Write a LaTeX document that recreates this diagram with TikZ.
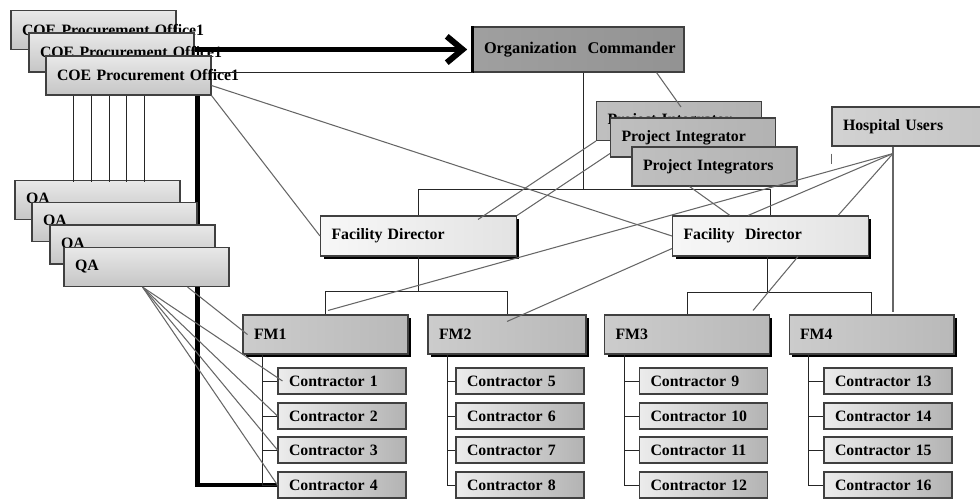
\documentclass[tikz,border=0pt]{standalone}
\usepackage{fontspec}
\setmainfont{Liberation Serif}
\usetikzlibrary{arrows.meta,shadows}
\pgfdeclarelayer{back}
\pgfsetlayers{back,main}

\begin{document}
\begin{tikzpicture}[x=0.02cm,y=-0.02cm,
  font=\fontsize{9}{11}\selectfont\bfseries,
  box/.style={draw=black!75, line width=0.6pt, align=left, inner xsep=0.22cm, inner ysep=0pt},
  coebox/.style={box, top color=gray!18, bottom color=gray!45, text width=2.86cm, minimum height=0.78cm},
  orgbox/.style={box, left color=gray!75, middle color=gray!28, right color=gray!85, text width=3.78cm, minimum height=0.9cm,
    font=\fontsize{9.3}{12}\selectfont\bfseries},
  pibox/.style={box, left color=gray!50, middle color=gray!28, right color=gray!60, text width=2.86cm, minimum height=0.78cm},
  hubox/.style={box, left color=gray!35, middle color=gray!15, right color=gray!45, text width=2.56cm, minimum height=0.78cm},
  fdbox/.style={box, left color=gray!6, right color=gray!22, text width=3.48cm, minimum height=0.8cm,
    drop shadow={shadow xshift=0.06cm, shadow yshift=-0.06cm, fill=black, opacity=1}},
  fmbox/.style={box, left color=gray!40, middle color=gray!20, right color=gray!55, text width=2.86cm, minimum height=0.78cm,
    drop shadow={shadow xshift=0.06cm, shadow yshift=-0.06cm, fill=black, opacity=1}},
  conbox/.style={box, left color=gray!15, middle color=gray!25, right color=gray!60, text width=2.12cm, minimum height=0.52cm},
  tree/.style={draw=black!85, line width=0.5pt},
  link/.style={draw=black!60, line width=0.6pt}]

\useasboundingbox (0,0) rectangle (980,498);

% procurement offices
\node[coebox] (coe1) at (93.5,30) {\mbox{COE Procurement Office1}};
\node[coebox] (coe2) at (111.5,52.5) {\mbox{COE Procurement Office1}};
\node[coebox] (coe3) at (128.5,75.5) {\mbox{COE Procurement Office1}};
\node[orgbox] (org) at (578.5,49.5) {\mbox{Organization\ \ Commander}};
\draw[line width=1.6pt] (org.north west) -- (org.south west);

% quality assurance
\node[coebox] (qa1) at (97.5,200) {QA};
\node[coebox] (qa2) at (114.5,222) {QA};
\node[coebox] (qa3) at (132.5,244.5) {QA};
\node[coebox] (qa4) at (146.5,267) {QA};

% integrators and users
\node[pibox] (pi1) at (679,121) {Project Integrator};
\node[pibox] (pi2) at (693,137.5) {Project Integrator};
\node[pibox] (pi3) at (714.5,166.5) {Project Integrators};
\node[hubox] (hu) at (907,126.5) {Hospital Users};

% directors and facility managers
\node[fdbox] (fd1) at (418.5,236) {Facility Director};
\node[fdbox] (fd2) at (770.5,236) {Facility\ \ Director};
\node[fmbox] (fm1) at (325.5,334.5) {FM1};
\node[fmbox, text width=2.72cm] (fm2) at (507,334.5) {FM2};
\node[fmbox] (fm3) at (687,334.5) {FM3};
\node[fmbox] (fm4) at (871.5,334.5) {FM4};

% contractors
\node[conbox] (c1) at (342,381) {Contractor 1};
\node[conbox] (c2) at (342,416) {Contractor 2};
\node[conbox] (c3) at (342,450) {Contractor 3};
\node[conbox] (c4) at (342,485) {Contractor 4};
\node[conbox] (c5) at (520,381) {Contractor 5};
\node[conbox] (c6) at (520,416) {Contractor 6};
\node[conbox] (c7) at (520,450) {Contractor 7};
\node[conbox] (c8) at (520,485) {Contractor 8};
\node[conbox] (c9) at (703.5,381) {Contractor 9};
\node[conbox] (c10) at (703.5,416) {Contractor 10};
\node[conbox] (c11) at (703.5,450) {Contractor 11};
\node[conbox] (c12) at (703.5,485) {Contractor 12};
\node[conbox] (c13) at (888,381) {Contractor 13};
\node[conbox] (c14) at (888,416) {Contractor 14};
\node[conbox] (c15) at (888,450) {Contractor 15};
\node[conbox] (c16) at (888,485) {Contractor 16};

% contract line behind the QA stack
\begin{pgfonlayer}{back}
\draw[line width=2.8pt] (coe3.south -| qa2.east) |- (c4.west);
\end{pgfonlayer}

% hierarchy
\draw[tree] ([xshift=0.09cm]org.south) -- ++(0,117) coordinate (obus);
\draw[tree] (fd1.north) |- (obus) -| (fd2.north);
\draw[tree] (fd1.south) -- ++(0,35) coordinate (fbus1);
\draw[tree] (fm1.north) |- (fbus1) -| (fm2.north);
\draw[tree] ([xshift=-0.07cm]fd2.south) -- ++(0,36) coordinate (fbus2);
\draw[tree] (fm3.north) |- (fbus2) -| (fm4.north);
\foreach \f/\a/\b/\c/\d in {fm1/c1/c2/c3/c4, fm2/c5/c6/c7/c8, fm3/c9/c10/c11/c12, fm4/c13/c14/c15/c16}
  \draw[tree] ([xshift=0.4cm]\f.south west) |- (\a.west)
              ([xshift=0.4cm]\f.south west) |- (\b.west)
              ([xshift=0.4cm]\f.south west) |- (\c.west)
              ([xshift=0.4cm]\f.south west) |- (\d.west);
\foreach \s in {-1.11,-0.75,-0.39,-0.05,0.31}
  \draw[tree] ([xshift=\s cm]coe3.south) -- +(0,86);
\draw[tree] (coe3.east |- org.south west) -- (org.south west);

% cross links
\draw[link] ([xshift=-0.56cm]org.south east) -- ([xshift=1.7cm,yshift=-0.12cm]pi1.north west);
\draw[link] (pi1.south west) -- ([xshift=1.19cm,yshift=-0.08cm]fd1.north);
\draw[link] ([yshift=0.08cm]pi2.south west) -- (fd1.north east);
\draw[link] (coe3.south east) -- (fd1.west);
\draw[link] ([yshift=-0.2cm]coe3.east) -- (fd2.west);
\draw[link] ([xshift=-0.5cm]pi3.south) -- ([xshift=-0.81cm]fd2.north);
\coordinate (hup) at ([xshift=-0.28cm,yshift=-0.14cm]hu.south);
\draw[link] (hu.south -| hup) -- ++(0,165);
\draw[link] (hup) -- ([xshift=0.05cm,yshift=0.08cm]fm1.north);
\draw[link] (hup) -- ([xshift=-0.45cm]fd2.north);
\draw[link] (hup) -- ([xshift=-0.62cm]fd2.north east);
\draw[link] ([yshift=-0.14cm]hu.south west) -- ++(0,10);
\draw[link] ([yshift=0.16cm]fd2.south west) -- ([yshift=-0.14cm]fm2.north);
\draw[link] ([xshift=0.55cm]fd2.south) -- ([xshift=1.32cm,yshift=0.08cm]fm3.north);
\draw[link] ([xshift=-0.08cm]qa4.south) -- ([xshift=0.1cm]c1.west);
\draw[link] ([xshift=-0.08cm]qa4.south) -- (c2.west);
\draw[link] ([xshift=-0.08cm]qa4.south) -- (c3.west);
\draw[link] ([xshift=-0.08cm]qa4.south) -- (c4.west);
\draw[link] ([xshift=-0.84cm]qa4.south east) -- ([xshift=0.1cm]fm1.west);

% reporting arrow
\draw[line width=3.4pt, -{Straight Barb[length=9pt,width=15pt]}, shorten >=3pt] (coe2.east |- org.west) -- (org.west);
\end{tikzpicture}
\end{document}
